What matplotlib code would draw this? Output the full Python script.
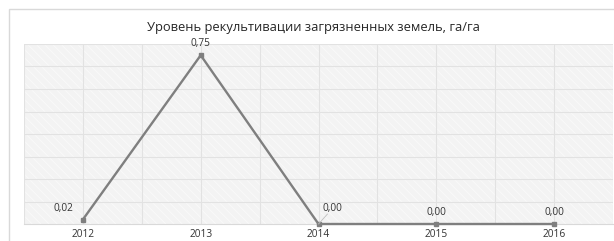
import matplotlib
matplotlib.use("Agg")
import matplotlib.pyplot as plt
from matplotlib.patches import Rectangle

years = ["2012", "2013", "2014", "2015", "2016"]
values = [0.02, 0.75, 0.00, 0.00, 0.00]
labels = ["0,02", "0,75", "0,00", "0,00", "0,00"]
title = "Уровень рекультивации загрязненных земель, га/га"

plt.rcParams['font.family'] = ['Open Sans', 'DejaVu Sans']
plt.rcParams['hatch.linewidth'] = 0.5

fig = plt.figure(figsize=(6.14, 2.41), dpi=100)
fig.patch.set_facecolor('white')

# outer frame
fig.patches.append(Rectangle((9/614, -0.1), 1.2, 1 - 9/241 + 0.1, transform=fig.transFigure,
                             facecolor='none', edgecolor='#d9d9d9', linewidth=1.0, zorder=0))

ax = fig.add_axes([24/614, 1 - 224/241, 589/614, (224 - 44)/241])
ax.set_facecolor('#f3f3f3')
ax.add_patch(Rectangle((0, 0), 1, 1, transform=ax.transAxes, facecolor='none',
                       edgecolor='#fbfbfb', hatch='\\\\\\\\', linewidth=0, zorder=0))

x = list(range(len(years)))
ax.set_xlim(-0.5, len(years) - 0.5)
ax.set_ylim(0, 0.8)

# grid lines
for gx in [i * 0.5 - 0.5 for i in range(2 * len(years) + 1)]:
    ax.axvline(gx, color='#e2e2e2', linewidth=0.8, zorder=1)
for gy in [i * 0.1 for i in range(1, 9)]:
    ax.axhline(gy, color='#e2e2e2', linewidth=0.8, zorder=1)

ax.plot(x, values, color='#7f7f7f', linewidth=1.7, marker='s', markersize=3,
        markerfacecolor='#7f7f7f', markeredgecolor='#7f7f7f', zorder=3, clip_on=False)

offsets = [(-19, 11), (0, 12), (14, 16), (0, 12), (0, 12)]
for i, (v, lab, off) in enumerate(zip(values, labels, offsets)):
    ax.annotate(lab, (x[i], v), xytext=off, textcoords='offset pixels',
                ha='center', va='center', fontsize=7.3, color='#333333', zorder=4)
# leader line for 2014 label
ax.annotate('', (x[2], values[2]), xytext=(9, 10), textcoords='offset pixels',
            arrowprops=dict(arrowstyle='-', color='#bfbfbf', linewidth=0.6, shrinkA=0, shrinkB=0))

ax.set_xticks(x)
ax.set_xticklabels(years, fontsize=7.3, color='#333333')
ax.set_yticks([])
ax.tick_params(axis='x', length=0, pad=3.5)
for s in ['top', 'right', 'left']:
    ax.spines[s].set_visible(False)
ax.spines['bottom'].set_color('#d9d9d9')

fig.text(313/614, 1 - 28/241, title, ha='center', va='center', fontsize=9.3, color='#262626')

fig.savefig('out.png', dpi=100)
